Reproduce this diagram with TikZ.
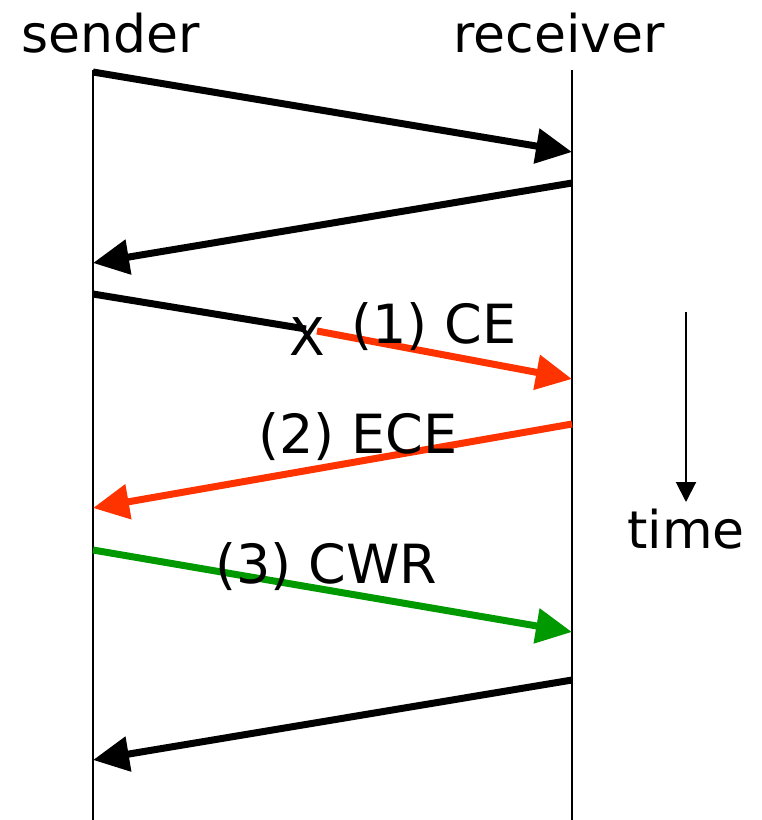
\documentclass[tikz,border=0pt]{standalone}
\usepackage{fontspec}
\setmainfont{DejaVu Sans}
\usetikzlibrary{arrows.meta}
\definecolor{ecnred}{RGB}{255,51,0}
\definecolor{ecngreen}{RGB}{0,153,0}
\begin{document}
\begin{tikzpicture}[x=1pt,y=-1pt,
  lifeline/.style={line width=1.6pt,black},
  msg/.style={line width=7pt,-{Triangle[length=36pt,width=34pt]}},
  plain/.style={line width=7pt},
  lbl/.style={inner sep=0pt,font=\fontsize{52}{60}\selectfont},
  msglbl/.style={inner sep=0pt,font=\fontsize{54}{60}\selectfont},
  timearrow/.style={line width=2pt,-{Triangle[length=20pt,width=20pt]}}]
\useasboundingbox (0,0) rectangle (762,820);

% lifelines
\coordinate (s0) at (93,70);
\coordinate (s1) at (93,820);
\coordinate (r0) at (572,70);
\coordinate (r1) at (572,820);
\draw[lifeline] (s0) -- (s1);
\draw[lifeline] (r0) -- (r1);

% headings
\node[lbl,anchor=base] (sender) at (111,52) {sender};
\node[lbl,anchor=base] (receiver) at (559,52) {receiver};

% endpoints on the lifelines
\coordinate (a1) at (93,72);   \coordinate (b1) at (572,152);
\coordinate (b2) at (572,183); \coordinate (a2) at (93,263);
\coordinate (a3) at (93,294);  \coordinate (b3) at (572,379);
\coordinate (b4) at (572,424); \coordinate (a4) at (93,508);
\coordinate (a5) at (93,550);  \coordinate (b5) at (572,632);
\coordinate (b6) at (572,680); \coordinate (a6) at (93,760);

% marking point
\node[lbl,anchor=base] (mark) at (307,355) {X};
\coordinate (m0) at (306,329);
\coordinate (m1) at (317,331);

% messages
\draw[msg] (a1) -- (b1);
\draw[msg] (b2) -- (a2);
\draw[plain] (a3) -- (m0);
\draw[msg,ecnred] (m1) -- (b3);
\draw[msg,ecnred] (b4) -- (a4);
\draw[msg,ecngreen] (a5) -- (b5);
\draw[msg] (b6) -- (a6);

% message labels
\node[msglbl,anchor=base west] (ce) at (351,343) {(1) CE};
\node[msglbl,anchor=base west] (ece) at (258,453) {(2) ECE};
\node[msglbl,anchor=base west] (cwr) at (215,583) {(3) CWR};

% time axis
\coordinate (t0) at (686,312);
\coordinate (t1) at (686,502);
\draw[timearrow] (t0) -- (t1);
\node[lbl,anchor=base] (time) at (686,548) {time};
\end{tikzpicture}
\end{document}
